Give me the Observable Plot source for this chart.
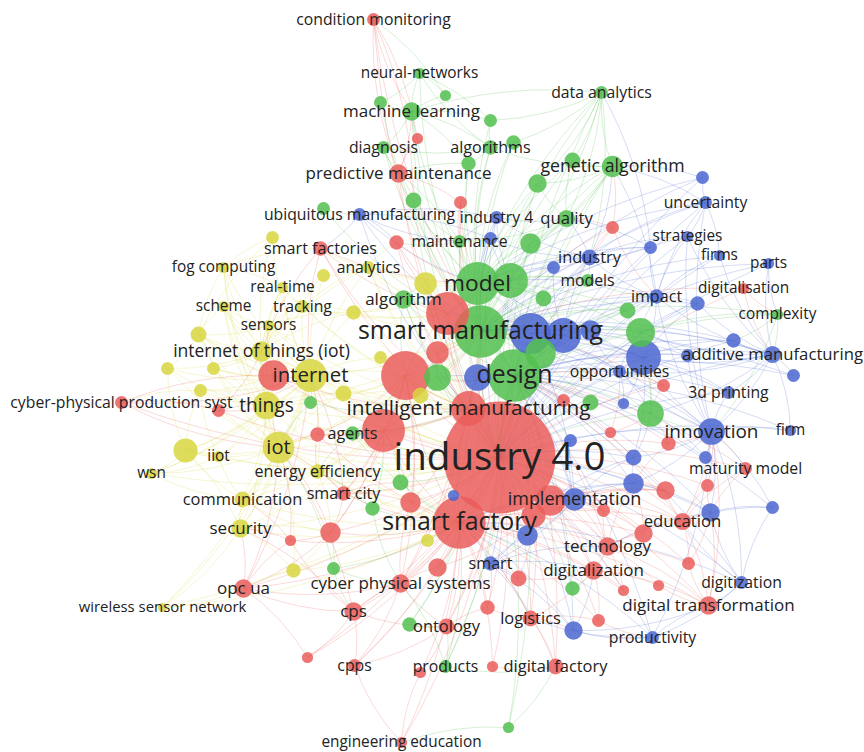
<!DOCTYPE html>
<html>
<head>
<meta charset="utf-8">
<script src="https://cdn.jsdelivr.net/npm/d3@7"></script>
<script src="https://cdn.jsdelivr.net/npm/@observablehq/plot@0.6"></script>
<style>
  html, body { margin: 0; padding: 0; background: #fff; }
  #chart svg { display: block; }
</style>
</head>
<body>
<div id="chart"></div>
<script>
// Keyword co-occurrence map: four clusters, map coordinates (x right, y up) and occurrences.
const clusterNames = ["cluster 1", "cluster 2", "cluster 3", "cluster 4"];
const clusterColors = ["#ea5d5b", "#52bf4f", "#4b66d0", "#d8d640"];

// [term, x, y, occurrences]; terms starting with "#" have their label hidden
const redTerms = [
  ["industry 4.0", 67, -81, 300], ["smart factory", 27, -146, 66], ["intelligent manufacturing", 36, -32, 29],
  ["technology", 175, -170, 8], ["digitalization", 161, -194, 8], ["education", 250, -145, 7],
  ["digital transformation", 276, -229, 8], ["logistics", 98, -242, 6], ["digital factory", 123, -290, 6],
  ["ontology", 14, -250, 6], ["cps", -79, -235, 8], ["cpps", -78, -289, 4],
  ["engineering education", -31, -366, 3], ["cyber physical systems", -32, -207, 8], ["opc ua", -189, -212, 8],
  ["smart city", -89, -117, 5], ["cyber-physical production syst", -311, -26, 4], ["smart factories", -112, 128, 5],
  ["predictive maintenance", -34, 203, 8], ["condition monitoring", -59, 357, 4], ["digitalisation", 311, 88, 3],
  ["maturity model", 313, -92, 4],
  ["#r1", -27, 1, 57], ["#r2", 15, 63, 44], ["#r3", -49, -54, 44], ["#r4", 118, -124, 22],
  ["#r5", 5, 24, 12], ["#r6", -159, 1, 22], ["#r7", -115, -58, 5], ["#r8", -36, 134, 5],
  ["#r9", -15, 238, 3], ["#r10", 28, 174, 4], ["#r11", 180, 149, 4], ["#r12", 231, -9, 4],
  ["#r13", 178, -56, 3], ["#r14", 236, -67, 5], ["#r15", 131, -24, 4], ["#r16", 233, -114, 8],
  ["#r17", 275, -109, 4], ["#r18", 171, -134, 4], ["#r19", 211, -157, 8], ["#r20", 101, -139, 14],
  ["#r21", 86, -202, 6], ["#r22", 191, -214, 3], ["#r23", 226, -209, 3], ["#r24", 256, -187, 4],
  ["#r25", 55, -231, 5], ["#r26", 166, -244, 4], ["#r27", 60, -290, 3], ["#r28", -12, -296, 3],
  ["#r29", 5, -191, 8], ["#r30", -22, -126, 10], ["#r31", -102, -156, 10], ["#r32", -142, -164, 3],
  ["#r33", -125, -281, 3], ["#r34", -214, -34, 4]
];

const greenTerms = [
  ["smart manufacturing", 48, 45, 66], ["design", 82, 1, 66], ["model", 45, 93, 44],
  ["genetic algorithm", 180, 210, 11], ["machine learning", -21, 265, 8], ["algorithm", -29, 77, 8],
  ["quality", 134, 158, 7], ["maintenance", 27, 135, 4], ["algorithms", 58, 229, 5],
  ["diagnosis", -49, 229, 4], ["neural-networks", -13, 303, 3], ["data analytics", 169, 284, 4],
  ["models", 155, 96, 4], ["complexity", 345, 62, 3], ["agents", -80, -57, 5], ["products", 13, -290, 4],
  ["#g1", 78, 96, 29], ["#g2", 108, 23, 22], ["#g3", 5, -1, 17], ["#g4", 208, 44, 20],
  ["#g5", 218, -37, 17], ["#g6", 195, 66, 6], ["#g7", 111, 78, 6], ["#g8", 98, 133, 10],
  ["#g9", 105, 193, 8], ["#g10", 140, 216, 6], ["#g11", 81, 234, 5], ["#g12", 36, 213, 5],
  ["#g13", 58, 256, 4], ["#g14", 13, 281, 3], ["#g15", -52, 274, 4], ["#g16", -19, 176, 6],
  ["#g17", -109, 168, 4], ["#g18", 158, -26, 6], ["#g19", -32, -106, 6], ["#g20", -60, -132, 5],
  ["#g21", -99, -192, 4], ["#g22", -122, -26, 4], ["#g23", 140, -212, 5], ["#g24", -23, -248, 5],
  ["#g25", 76, -351, 3]
];

const blueTerms = [
  ["implementation", 142, -123, 12], ["innovation", 279, -55, 17], ["additive manufacturing", 340, 22, 7],
  ["opportunities", 187, 5, 4], ["3d printing", 296, -16, 4], ["impact", 224, 80, 5],
  ["industry", 157, 119, 6], ["industry 4", 64, 159, 4], ["ubiquitous manufacturing", -73, 162, 4],
  ["uncertainty", 273, 174, 4], ["strategies", 255, 140, 3], ["firms", 287, 121, 3],
  ["parts", 336, 113, 3], ["firm", 358, -54, 3], ["digitization", 309, -206, 4],
  ["productivity", 220, -261, 4], ["smart", 58, -187, 5],
  ["#b1", 98, 43, 40], ["#b2", 131, 41, 29], ["#b3", 211, 19, 29], ["#b4", 158, 46, 10],
  ["#b5", 45, -1, 17], ["#b6", 121, 109, 4], ["#b7", 265, 73, 5], ["#b8", 301, 36, 5],
  ["#b9", 255, 21, 4], ["#b10", 361, 1, 4], ["#b11", 191, -27, 3], ["#b12", 201, -81, 6],
  ["#b13", 273, -81, 4], ["#b14", 138, -64, 4], ["#b15", 201, -107, 10], ["#b16", 278, -136, 8],
  ["#b17", 340, -131, 4], ["#b18", 95, -159, 10], ["#b19", 21, -119, 3], ["#b20", 141, -254, 8],
  ["#b21", 270, 199, 4], ["#b22", 218, 129, 4], ["#b23", 58, 138, 4]
];

const yellowTerms = [
  ["internet", -122, 1, 26], ["internet of things (iot)", -171, 25, 10], ["iot", -154, -71, 24],
  ["things", -166, -29, 18], ["security", -192, -152, 8], ["communication", -190, -123, 6],
  ["energy efficiency", -115, -95, 5], ["iiot", -214, -80, 3], ["wsn", -281, -97, 3],
  ["wireless sensor network", -270, -231, 2], ["sensors", -164, 51, 3], ["scheme", -209, 70, 3],
  ["tracking", -130, 70, 4], ["real-time", -150, 89, 3], ["fog computing", -209, 109, 3],
  ["analytics", -64, 109, 4],
  ["#y1", -7, 93, 12], ["#y2", -79, 64, 5], ["#y3", -52, 19, 4], ["#y4", -89, -17, 6],
  ["#y5", -234, 42, 6], ["#y6", -265, 8, 4], ["#y7", -219, 8, 4], ["#y8", -232, -14, 4],
  ["#y9", -247, -74, 14], ["#y10", -160, 139, 4], ["#y11", -109, 101, 4], ["#y12", -139, -194, 5],
  ["#y13", -5, -164, 4], ["#y14", -12, -19, 6]
];

// co-occurrence links: [term, "neighbour; neighbour; ..."]
const links = [
  ["industry 4.0", "smart factory;intelligent manufacturing;smart manufacturing;design;model;internet;iot;things;technology;digitalization;education;digital transformation;logistics;digital factory;ontology;cps;cpps;engineering education;cyber physical systems;opc ua;smart city;cyber-physical production syst;smart factories;predictive maintenance;condition monitoring;digitalisation;maturity model;genetic algorithm;machine learning;algorithm;quality;maintenance;data analytics;products;agents;implementation;innovation;additive manufacturing;opportunities;3d printing;impact;industry;industry 4;uncertainty;strategies;firms;parts;firm;digitization;productivity;smart;security;communication;energy efficiency;internet of things (iot);sensors;analytics;iiot;wsn;wireless sensor network;#r1;#r2;#r3;#r4;#r5;#r6;#r8;#r10;#r11;#r12;#r14;#r16;#r17;#r18;#r19;#r20;#r21;#r22;#r24;#r25;#r26;#r27;#r29;#r30;#r31;#r33;#r34;#g1;#g2;#g3;#g4;#g5;#g8;#g9;#g16;#g18;#g19;#g23;#g25;#b1;#b2;#b3;#b5;#b7;#b8;#b12;#b15;#b16;#b18;#b20;#b21;#b22;#y1;#y4;#y5;#y9;#y12"],
  ["smart manufacturing", "design;model;intelligent manufacturing;smart factory;genetic algorithm;machine learning;algorithm;quality;maintenance;algorithms;diagnosis;neural-networks;data analytics;models;complexity;predictive maintenance;industry;industry 4;ubiquitous manufacturing;impact;innovation;additive manufacturing;opportunities;3d printing;internet;iot;things;analytics;agents;energy efficiency;uncertainty;strategies;firms;parts;digitalisation;condition monitoring;cyber physical systems;implementation;#g1;#g2;#g3;#g4;#g5;#g6;#g7;#g8;#g9;#g10;#g11;#g12;#g13;#g15;#g16;#g17;#g18;#b1;#b2;#b3;#b4;#b6;#b7;#b8;#b9;#b10;#b21;#b22;#b23;#r1;#r2;#r3;#r5;#r8;#r10;#r11;#r12;#y1;#y2;#y3"],
  ["design", "model;smart factory;intelligent manufacturing;genetic algorithm;algorithm;quality;models;impact;industry;innovation;additive manufacturing;3d printing;opportunities;complexity;implementation;technology;education;products;ontology;digital factory;logistics;digitization;productivity;firm;parts;maturity model;#g1;#g2;#g3;#g4;#g5;#g6;#g7;#g8;#g18;#g23;#g24;#g25;#b1;#b2;#b3;#b4;#b5;#b8;#b9;#b10;#b11;#b12;#b13;#b14;#b15;#b16;#b17;#b20;#r1;#r2;#r4;#r12;#r13;#r14;#r15;#r16"],
  ["model", "intelligent manufacturing;genetic algorithm;algorithm;quality;algorithms;machine learning;diagnosis;maintenance;data analytics;industry 4;ubiquitous manufacturing;models;impact;industry;uncertainty;analytics;smart factories;#g1;#g2;#g4;#g6;#g7;#g8;#g9;#g10;#g11;#g12;#g16;#b1;#b2;#b6;#b21;#b22;#b23;#r2;#r5;#r8;#r10;#y1;#y2"],
  ["smart factory", "intelligent manufacturing;internet;iot;things;technology;digitalization;education;digital transformation;logistics;digital factory;ontology;cps;cpps;engineering education;cyber physical systems;opc ua;smart city;smart;products;agents;security;communication;energy efficiency;implementation;productivity;digitization;wireless sensor network;#r1;#r3;#r4;#r7;#r16;#r18;#r19;#r20;#r21;#r22;#r25;#r26;#r27;#r28;#r29;#r30;#r31;#r32;#r33;#g19;#g20;#g21;#g23;#g24;#b15;#b18;#b19;#b20;#y12;#y13"],
  ["intelligent manufacturing", "internet;iot;things;algorithm;agents;ubiquitous manufacturing;internet of things (iot);sensors;tracking;real-time;analytics;smart factories;cyber physical systems;#r1;#r2;#r3;#r5;#r6;#r7;#r30;#g3;#g19;#g22;#y1;#y2;#y3;#y4;#y14;#b5;#b19"],
  ["internet", "iot;things;internet of things (iot);security;communication;energy efficiency;iiot;wsn;wireless sensor network;sensors;scheme;tracking;real-time;fog computing;analytics;smart city;cyber-physical production syst;smart factories;opc ua;#r1;#r3;#r6;#r7;#r34;#y2;#y3;#y4;#y5;#y6;#y7;#y8;#y9;#y10;#y11;#g22"],
  ["iot", "things;internet of things (iot);security;communication;energy efficiency;iiot;wsn;wireless sensor network;sensors;scheme;fog computing;smart city;cyber-physical production syst;opc ua;cps;#r3;#r6;#r7;#r31;#r32;#y4;#y5;#y6;#y7;#y8;#y9;#y12;#y13;#g22;#g21"],
  ["things", "internet of things (iot);security;communication;iiot;wsn;sensors;scheme;real-time;tracking;fog computing;#r6;#r34;#y5;#y6;#y7;#y8;#y9;#y4"],
  ["internet of things (iot)", "sensors;scheme;tracking;real-time;fog computing;smart factories;analytics;#y5;#y6;#y7;#y10;#y11;#y2;#r6;#r34"],
  ["security", "communication;opc ua;wireless sensor network;cps;#r31;#r32;#y12"],
  ["communication", "iiot;energy efficiency;wsn;#y9;#r32"],
  ["energy efficiency", "smart city;agents;#r7;#r31;#g20"],
  ["iiot", "wsn;#y9;#y8"],
  ["sensors", "scheme;tracking;real-time;#y5;#y2"],
  ["tracking", "real-time;analytics;#y2;#y11"],
  ["fog computing", "smart factories;real-time;#y10"],
  ["analytics", "smart factories;#y11;#y1;#r8"],
  ["genetic algorithm", "quality;data analytics;algorithms;industry;impact;uncertainty;#g9;#g10;#g8;#b21;#r11"],
  ["machine learning", "neural-networks;algorithms;diagnosis;predictive maintenance;condition monitoring;data analytics;#g13;#g14;#g15;#g12"],
  ["predictive maintenance", "diagnosis;condition monitoring;maintenance;#g16;#g12;#r9;#r10"],
  ["algorithms", "neural-networks;diagnosis;#g11;#g12;#g13"],
  ["quality", "industry 4;industry;maintenance;#g8;#g9;#g10;#b22;#r11"],
  ["maintenance", "industry 4;ubiquitous manufacturing;#g16;#r8;#r10;#b23"],
  ["algorithm", "analytics;#y1;#y2;#r2;#r5"],
  ["neural-networks", "#g14;#g13;#g15"],
  ["data analytics", "quality;industry;#g9;#g10;#g11;#g13;#g8;#b22"],
  ["condition monitoring", "#g14;#g16;#r9"],
  ["ubiquitous manufacturing", "smart factories;industry 4;#g17;#r8;#b23"],
  ["complexity", "additive manufacturing;parts;digitalisation;innovation;#b8"],
  ["additive manufacturing", "3d printing;innovation;firm;parts;firms;digitalisation;impact;opportunities;strategies;#b3;#b7;#b8;#b9;#b10;#g4;#g5"],
  ["innovation", "3d printing;firm;maturity model;digitization;digital transformation;education;opportunities;impact;strategies;uncertainty;productivity;#b12;#b13;#b15;#b16;#b17;#b3;#b9;#r14;#r17;#g5"],
  ["impact", "strategies;firms;industry;uncertainty;models;#b22;#b7;#b3;#r11"],
  ["industry", "models;strategies;uncertainty;industry 4;#b6;#b22;#b23;#r11"],
  ["uncertainty", "strategies;firms;#b21"],
  ["opportunities", "#b3;#b4;#b11;#g4;#g5;#r12;#r13"],
  ["implementation", "technology;education;smart;#b15;#b18;#b14;#b12;#r4;#r16;#r18;#r19;#r20"],
  ["digitization", "digital transformation;productivity;education;#b16;#b17"],
  ["productivity", "digital transformation;logistics;#b20;#r26"],
  ["smart", "technology;digitalization;logistics;#b18;#b20;#r21;#r25"],
  ["technology", "digitalization;education;digital transformation;#r19;#r18;#r22;#r23;#r24;#b15;#b16"],
  ["digitalization", "logistics;digital transformation;#r21;#r22;#r23;#r26;#g23;#b20"],
  ["education", "maturity model;digital transformation;#r16;#r17;#r24;#b16;#b17"],
  ["digital transformation", "#r23;#r24;#b20"],
  ["logistics", "digital factory;#r25;#r26;#b20"],
  ["digital factory", "products;#r27;#g25"],
  ["ontology", "products;cps;cpps;cyber physical systems;#g24;#r28;#r25"],
  ["cps", "cpps;cyber physical systems;opc ua;#r33;#r32;#g21"],
  ["cyber physical systems", "opc ua;cpps;products;#g21;#g20;#r29;#r30"],
  ["opc ua", "wireless sensor network;#r33;#r32;#y12"],
  ["engineering education", "cpps;#r28;#g25"],
  ["smart city", "#r31;#r30;#g20;#g19"],
  ["cyber-physical production syst", "#r6;#y8;#r34"],
  ["#r1", "internet;iot;things;algorithm;agents;energy efficiency;smart city;cyber physical systems;#r2;#r3;#r5;#r7;#r30;#r31;#g3;#y4;#y14"],
  ["#r2", "algorithm;analytics;smart factories;tracking;#y1;#y2;#g1;#b1;#r8"],
  ["#r3", "agents;energy efficiency;smart city;communication;security;#r7;#r30;#r31;#g19;#g20"],
  ["#r4", "technology;digitalization;#r20;#r16;#r18;#b15;#b18;#b12"],
  ["#r6", "sensors;scheme;#y5;#y7;#y8"],
  ["#r20", "smart;technology;#b18;#r21;#r29"],
  ["#r31", "opc ua;security;communication;#r32;#y12;#g21"],
  ["#b1", "impact;industry;opportunities;additive manufacturing;innovation;implementation;#b2;#b3;#b4;#b5;#g1;#g2"],
  ["#b2", "models;industry;impact;#b4;#b6;#g2;#g4;#g6;#g7"],
  ["#b3", "impact;3d printing;innovation;#b4;#b7;#b8;#b9;#b11;#b12;#g4;#g5;#g6"],
  ["#b15", "education;#b12;#b16;#r16;#r19;#r14"],
  ["#b16", "digital transformation;maturity model;#b17;#r17;#r24"],
  ["#g1", "models;industry;quality;industry 4;#g7;#g8;#b6;#b23"],
  ["#g3", "#y14;#y3;#y4;#r5;#b5"],
  ["#g4", "impact;complexity;#g5;#g6;#b7;#b9"],
  ["#g5", "#b11;#b12;#b13;#r12;#r13;#r14"],
  ["#y5", "scheme;fog computing;#y6;#y7;#y10"],
  ["#y9", "wsn;communication;security;#y6;#y8"]
];

const terms = [
  ...redTerms.map(d => ({ id: d[0], x: d[1], y: d[2], w: d[3], cluster: clusterNames[0] })),
  ...greenTerms.map(d => ({ id: d[0], x: d[1], y: d[2], w: d[3], cluster: clusterNames[1] })),
  ...blueTerms.map(d => ({ id: d[0], x: d[1], y: d[2], w: d[3], cluster: clusterNames[2] })),
  ...yellowTerms.map(d => ({ id: d[0], x: d[1], y: d[2], w: d[3], cluster: clusterNames[3] }))
];
const byId = new Map(terms.map(d => [d.id, d]));

// unique undirected edges; an edge takes the colour of its lighter endpoint
const seen = new Set();
const edges = [];
for (const [a, list] of links) {
  for (const b of list.split(";").map(s => s.trim()).filter(Boolean)) {
    const key = [a, b].sort().join("|");
    if (seen.has(key) || !byId.has(a) || !byId.has(b)) continue;
    seen.add(key);
    const s = byId.get(a), t = byId.get(b);
    const light = s.w < t.w ? s : t;
    edges.push({ x1: s.x, y1: s.y, x2: t.x, y2: t.y, cluster: light.cluster });
  }
}

const maxW = 300, maxR = 56;
const radius = d3.scaleSqrt().domain([0, maxW]).range([0, maxR]);
const nodes = terms.slice().sort((a, b) => a.w - b.w);
// label size grows with the circle radius
const labelled = terms
  .filter(d => !d.id.startsWith("#"))
  .map(d => ({ ...d, fs: 12.8 + 0.46 * radius(d.w) }))
  .sort((a, b) => a.w - b.w);

const chart = Plot.plot({
  width: 864,
  height: 752,
  margin: 0,
  x: { domain: [-432, 432], axis: null },
  y: { domain: [-376, 376], axis: null },
  r: { type: "sqrt", domain: [0, maxW], range: [0, maxR] },
  color: { domain: clusterNames, range: clusterColors },
  style: { background: "#fff" },
  marks: [
    Plot.arrow(edges, {
      x1: "x1", y1: "y1", x2: "x2", y2: "y2",
      stroke: "cluster", strokeOpacity: 0.26, strokeWidth: 0.9,
      bend: 12, headLength: 0
    }),
    Plot.dot(nodes, {
      x: "x", y: "y", r: "w", fill: "cluster", fillOpacity: 0.85, stroke: null
    }),
    Plot.text(labelled, {
      x: "x", y: "y", text: "id", fontSize: "fs",
      fill: "#222", fontFamily: "'Open Sans', sans-serif"
    })
  ]
});

document.getElementById("chart").append(chart);
</script>
</body>
</html>
